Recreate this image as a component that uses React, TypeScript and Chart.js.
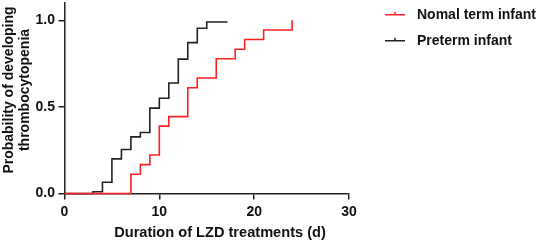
import React, { useEffect, useRef } from "react";
import { Chart, registerables } from "chart.js";

Chart.register(...registerables);

// ---- data ----
const seriesNames = ["Nomal term infant", "Preterm infant"];
const seriesColors = ["#ff2020", "#222222"];

const normalDays = [0, 7, 8, 9, 10, 11, 13, 14, 16, 18, 19, 21, 24];
const normalProb = [0, 0.111, 0.167, 0.222, 0.389, 0.444, 0.611, 0.667, 0.778, 0.833, 0.889, 0.944, 1.0];

const pretermDays = [0, 3, 4, 5, 6, 7, 8, 9, 10, 11, 12, 13, 14, 15, 17.2];
const pretermProb = [0, 0.01, 0.065, 0.2, 0.254, 0.327, 0.352, 0.493, 0.55, 0.638, 0.776, 0.871, 0.954, 0.99, 0.99];

const xTicks = [0, 10, 20, 30];
const yTicks = [0, 0.5, 1.0];
const xTitle = "Duration of LZD treatments (d)";
const yTitleLines = ["Probability of developing", "thrombocytopenia"];

const FONT = "'Liberation Sans', Arial, Helvetica, sans-serif";

const toPoints = (xs: number[], ys: number[]) => xs.map((x, i) => ({ x, y: ys[i] }));

const overlayPlugin = {
  id: "overlay",
  afterDraw(chart: any) {
    const ctx = chart.ctx as CanvasRenderingContext2D;
    ctx.save();
    ctx.fillStyle = "#111";
    ctx.textAlign = "center";
    ctx.textBaseline = "middle";
    // y-axis title
    ctx.font = `bold 14px ${FONT}`;
    yTitleLines.forEach((line, i) => {
      ctx.save();
      ctx.translate(9.5 + i * 15.5, 90);
      ctx.rotate(-Math.PI / 2);
      ctx.fillText(line, 0, 0);
      ctx.restore();
    });
    // x-axis title
    ctx.font = `bold 14.6px ${FONT}`;
    ctx.fillText(xTitle, 220, 233);
    // legend
    seriesNames.forEach((name, i) => {
      const y = 14.7 + i * 26;
      ctx.strokeStyle = seriesColors[i];
      ctx.lineWidth = 1.5;
      ctx.beginPath();
      ctx.moveTo(385, y);
      ctx.lineTo(405, y);
      ctx.moveTo(395, y);
      ctx.lineTo(395, y - 3);
      ctx.stroke();
      ctx.fillStyle = "#111";
      ctx.textAlign = "left";
      ctx.textBaseline = "middle";
      ctx.font = `bold 14px ${FONT}`;
      ctx.fillText(name, 417, y);
    });
    ctx.restore();
  },
};

export default function App() {
  const ref = useRef<HTMLCanvasElement | null>(null);
  useEffect(() => {
    if (!ref.current) return;
    const chart = new Chart(ref.current, {
      type: "line",
      data: {
        datasets: [
          {
            label: seriesNames[0],
            data: toPoints(normalDays, normalProb),
            borderColor: seriesColors[0],
            borderWidth: 1.6,
            pointRadius: 0,
            stepped: true,
            clip: false as any,
          },
          {
            label: seriesNames[1],
            data: toPoints(pretermDays, pretermProb),
            borderColor: seriesColors[1],
            borderWidth: 1.6,
            pointRadius: 0,
            stepped: true,
            clip: false as any,
          },
        ],
      },
      options: {
        responsive: false,
        animation: false,
        devicePixelRatio: 1,
        layout: { padding: { top: 3, right: 191, left: 0, bottom: 0 } },
        plugins: { legend: { display: false }, tooltip: { enabled: false } },
        scales: {
          x: {
            type: "linear",
            min: 0,
            max: 30,
            afterFit: (s: any) => {
              s.height = 48.5;
              s.paddingLeft = 0;
              s.paddingRight = 0;
            },
            afterBuildTicks: (s: any) => {
              s.ticks = xTicks.map((v) => ({ value: v }));
            },
            ticks: {
              color: "#111",
              font: { family: FONT, size: 14, weight: "bold" },
              padding: 4,
              maxRotation: 0,
            },
            grid: {
              drawOnChartArea: false,
              drawTicks: true,
              tickLength: 6,
              color: "#222",
              lineWidth: 1.5,
            },
            border: { display: true, color: "#222", width: 1.5 },
            title: { display: false },
          },
          y: {
            type: "linear",
            min: 0,
            max: 1.1,
            afterFit: (s: any) => {
              s.width = 64.5;
              s.paddingTop = 0;
              s.paddingBottom = 0;
            },
            afterBuildTicks: (s: any) => {
              s.ticks = yTicks.map((v) => ({ value: v }));
            },
            ticks: {
              color: "#111",
              font: { family: FONT, size: 14, weight: "bold" },
              padding: 3.5,
              callback: (v: any) => Number(v).toFixed(1),
            },
            grid: {
              drawOnChartArea: false,
              drawTicks: true,
              tickLength: 6,
              color: "#222",
              lineWidth: 1.5,
            },
            border: { display: true, color: "#222", width: 1.5 },
            title: { display: false },
          },
        },
      },
      plugins: [overlayPlugin],
    });
    return () => chart.destroy();
  }, []);
  return (
    <canvas
      ref={ref}
      width={540}
      height={242}
      style={{ position: "absolute", left: 0, top: 0, width: 540, height: 242 }}
    />
  );
}
